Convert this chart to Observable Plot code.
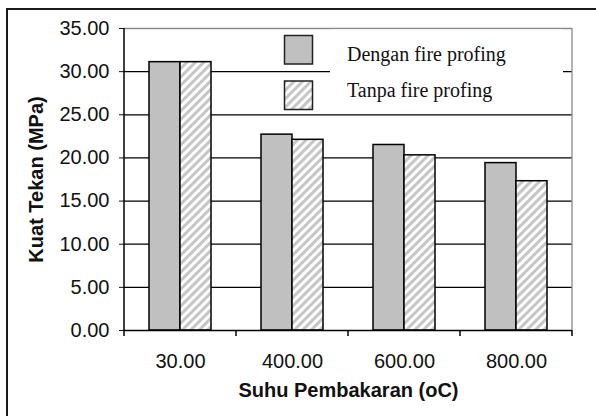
<!DOCTYPE html>
<html>
<head>
<meta charset="utf-8">
<script src="https://cdn.jsdelivr.net/npm/d3@7"></script>
<script src="https://cdn.jsdelivr.net/npm/@observablehq/plot@0.6"></script>
<style>
  body { margin: 0; background: #fff; }
  #wrap { position: relative; width: 596px; height: 416px; overflow: hidden; background: #fff; }
  #chart { position: absolute; left: 0; top: 0; }
  #border { position: absolute; left: 6px; top: 8px; width: 800px; height: 800px;
            border-left: 2px solid #1a1a1a; border-top: 2px solid #1a1a1a; pointer-events: none; }
  svg [aria-label="y-axis label"], svg [aria-label="fx-axis label"] { font-weight: bold; }
</style>
</head>
<body>
<div id="wrap">
  <div id="chart"></div>
  <div id="border"></div>
</div>
<script>
// ---- data ----
const temps = [30, 400, 600, 800];
const seriesNames = ["Dengan fire profing", "Tanpa fire profing"];
const dengan = [31.1, 22.7, 21.5, 19.4];
const tanpa = [31.1, 22.1, 20.3, 17.3];
const yTicks = [0, 5, 10, 15, 20, 25, 30, 35];
const xTitle = "Suhu Pembakaran (oC)";
const yTitle = "Kuat Tekan (MPa)";

const data = temps.flatMap((t, i) => [
  {suhu: t, series: seriesNames[0], value: dengan[i]},
  {suhu: t, series: seriesNames[1], value: tanpa[i]}
]);

const fmt = d3.format(".2f");

const svg = Plot.plot({
  width: 596,
  height: 416,
  marginLeft: 123,
  marginRight: 23,
  marginTop: 28,
  marginBottom: 86,
  style: {fontFamily: "'Liberation Sans', Arial, sans-serif", fontSize: "20px", color: "#111", background: "transparent", overflow: "visible"},
  facet: {data, x: "suhu"},
  fx: {padding: 0, axis: "bottom", tickSize: 0, tickPadding: 23, tickFormat: fmt,
       label: xTitle, labelAnchor: "center", labelOffset: 66, labelArrow: "none"},
  x: {axis: null, domain: seriesNames, paddingInner: 0, paddingOuter: 0.76},
  y: {domain: [0, 35], ticks: yTicks, tickFormat: fmt, tickSize: 5, tickPadding: 10,
      label: yTitle, labelAnchor: "center", labelOffset: 96, labelArrow: "none"},
  marks: [
    Plot.ruleY(yTicks.filter(v => v > 0 && v < 35), {stroke: "#000", strokeWidth: 1.3}),
    Plot.ruleY([35], {stroke: "#8a8a8a", strokeWidth: 1.3}),
    Plot.barY(data, {filter: d => d.series === seriesNames[0], x: "series", y: "value",
      fill: "#c0c0c0", stroke: "#000", strokeWidth: 1.5}),
    Plot.barY(data, {filter: d => d.series === seriesNames[1], x: "series", y: "value",
      fill: "url(#hatch)", stroke: "#000", strokeWidth: 1.5}),
    Plot.ruleY([0], {stroke: "#000", strokeWidth: 1.5})
  ]
});

document.getElementById("chart").appendChild(svg);

const root = d3.select(svg);
const defs = root.insert("defs", ":first-child");
const pat = defs.append("pattern")
  .attr("id", "hatch")
  .attr("patternUnits", "userSpaceOnUse")
  .attr("width", 6).attr("height", 6)
  .attr("patternTransform", "rotate(45)");
pat.append("rect").attr("width", 6).attr("height", 6).style("fill", "#fff");
pat.append("rect").attr("width", 3).attr("height", 6).style("fill", "#c6c6c6");

// frame lines and category boundary ticks from the library's scales
const fxS = svg.scale("fx");
const yS = svg.scale("y");
const dom = fxS.domain;
const bw = fxS.bandwidth != null ? fxS.bandwidth : (fxS.range[1] - fxS.range[0]) / dom.length;
const starts = dom.map(d => fxS.apply(d));
const bounds = [...starts, starts[starts.length - 1] + bw];
const y0 = yS.apply(0), yTop = yS.apply(35);
const extra = root.append("g");
extra.append("line").attr("x1", bounds[bounds.length - 1]).attr("x2", bounds[bounds.length - 1])
  .attr("y1", yTop).attr("y2", y0).attr("stroke", "#8a8a8a").attr("stroke-width", 1.3);
extra.append("line").attr("x1", bounds[0]).attr("x2", bounds[0])
  .attr("y1", yTop).attr("y2", y0).attr("stroke", "#000").attr("stroke-width", 1.5);
extra.selectAll("line.bt").data(bounds).join("line").attr("class", "bt")
  .attr("x1", d => d).attr("x2", d => d).attr("y1", y0).attr("y2", y0 + 6)
  .attr("stroke", "#000").attr("stroke-width", 1.5);

// legend
const lg = root.append("g").attr("text-anchor", "start").style("text-anchor", "start");
lg.append("rect").attr("x", 330).attr("y", 29.5).attr("width", 233).attr("height", 83)
  .style("fill", "#ffffff").style("stroke", "none");
const fills = ["#c0c0c0", "url(#hatch)"];
seriesNames.forEach((name, i) => {
  lg.append("rect").attr("x", 284.5).attr("y", i === 0 ? 35.5 : 81)
    .attr("width", 28).attr("height", 28.5)
    .style("fill", fills[i]).style("stroke", "#222").style("stroke-width", 1.5);
  lg.append("text").attr("x", 347).attr("y", i === 0 ? 61 : 97)
    .style("text-anchor", "start")
    .style("font-family", "'Liberation Serif', 'Times New Roman', serif")
    .style("font-size", "20px").style("fill", "#111").text(name);
});
</script>
</body>
</html>
